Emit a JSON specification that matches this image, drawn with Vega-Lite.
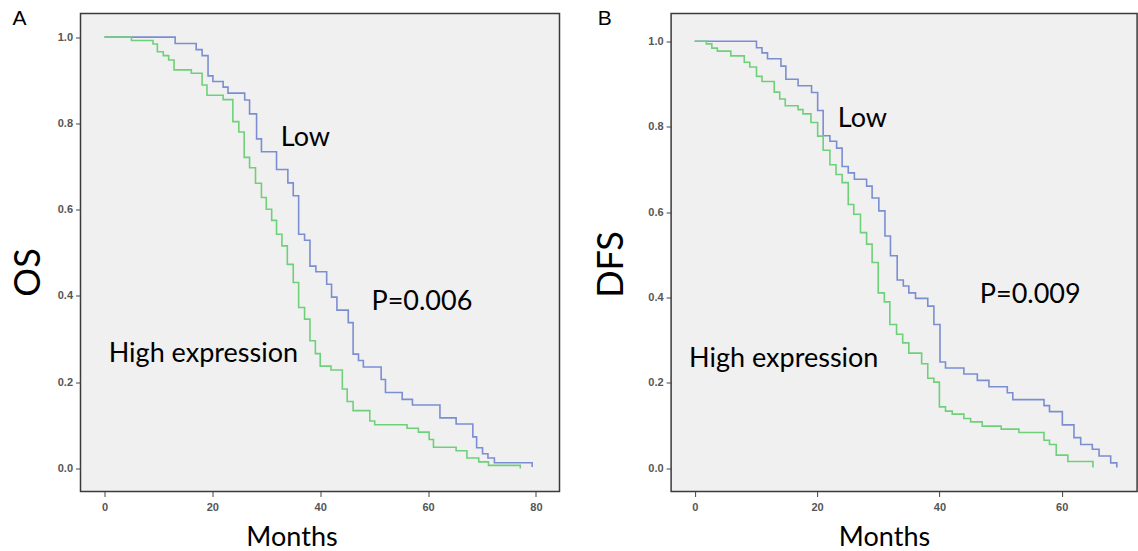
{
  "$schema": "https://vega.github.io/schema/vega-lite/v6.json",
  "background": "white",
  "padding": {"left": 9.5, "top": 7.5, "right": 0, "bottom": 0},
  "spacing": 111.6,
  "bounds": "flush",
  "config": {
    "view": {"fill": "#f0f0f0", "stroke": "#3a3a3a", "strokeWidth": 1.5},
    "axis": {
      "grid": false, "domain": false, "tickColor": "#444", "tickSize": 5, "tickWidth": 1,
      "labelFont": "Liberation Sans", "labelFontSize": 11, "labelColor": "#555", "labelFontWeight": "bold",
      "titleFont": "Lato", "titleFontWeight": "normal", "titleColor": "#000"
    },
    "title": {"font": "Liberation Sans", "fontSize": 21, "fontWeight": "normal", "color": "#000", "anchor": "start", "frame": "group", "baseline": "alphabetic", "offset": 0}
  },
  "datasets": {
    "curvesA": [
      {"group": "Low", "month": 0, "surv": 1.0},
      {"group": "Low", "month": 13.1, "surv": 0.985},
      {"group": "Low", "month": 17.0, "surv": 0.971},
      {"group": "Low", "month": 18.1, "surv": 0.957},
      {"group": "Low", "month": 19.2, "surv": 0.910},
      {"group": "Low", "month": 20.1, "surv": 0.897},
      {"group": "Low", "month": 22.0, "surv": 0.884},
      {"group": "Low", "month": 22.9, "surv": 0.870},
      {"group": "Low", "month": 26.0, "surv": 0.854},
      {"group": "Low", "month": 26.9, "surv": 0.822},
      {"group": "Low", "month": 28.2, "surv": 0.764},
      {"group": "Low", "month": 29.1, "surv": 0.734},
      {"group": "Low", "month": 31.9, "surv": 0.693},
      {"group": "Low", "month": 34.0, "surv": 0.662},
      {"group": "Low", "month": 35.0, "surv": 0.632},
      {"group": "Low", "month": 36.0, "surv": 0.543},
      {"group": "Low", "month": 37.1, "surv": 0.529},
      {"group": "Low", "month": 38.1, "surv": 0.469},
      {"group": "Low", "month": 39.2, "surv": 0.456},
      {"group": "Low", "month": 41.2, "surv": 0.427},
      {"group": "Low", "month": 42.1, "surv": 0.397},
      {"group": "Low", "month": 43.1, "surv": 0.367},
      {"group": "Low", "month": 45.2, "surv": 0.338},
      {"group": "Low", "month": 46.1, "surv": 0.265},
      {"group": "Low", "month": 47.1, "surv": 0.250},
      {"group": "Low", "month": 48.0, "surv": 0.235},
      {"group": "Low", "month": 51.3, "surv": 0.206},
      {"group": "Low", "month": 52.1, "surv": 0.176},
      {"group": "Low", "month": 55.2, "surv": 0.160},
      {"group": "Low", "month": 57.1, "surv": 0.147},
      {"group": "Low", "month": 62.2, "surv": 0.117},
      {"group": "Low", "month": 65.2, "surv": 0.103},
      {"group": "Low", "month": 68.3, "surv": 0.073},
      {"group": "Low", "month": 69.0, "surv": 0.048},
      {"group": "Low", "month": 70.1, "surv": 0.034},
      {"group": "Low", "month": 71.1, "surv": 0.024},
      {"group": "Low", "month": 72.3, "surv": 0.013},
      {"group": "Low", "month": 79.3, "surv": 0.003},
      {"group": "High expression", "month": 0, "surv": 1.0},
      {"group": "High expression", "month": 5.0, "surv": 0.992},
      {"group": "High expression", "month": 9.0, "surv": 0.984},
      {"group": "High expression", "month": 9.8, "surv": 0.966},
      {"group": "High expression", "month": 10.9, "surv": 0.957},
      {"group": "High expression", "month": 11.9, "surv": 0.947},
      {"group": "High expression", "month": 12.9, "surv": 0.924},
      {"group": "High expression", "month": 16.1, "surv": 0.916},
      {"group": "High expression", "month": 18.1, "surv": 0.889},
      {"group": "High expression", "month": 19.0, "surv": 0.865},
      {"group": "High expression", "month": 22.0, "surv": 0.855},
      {"group": "High expression", "month": 23.8, "surv": 0.804},
      {"group": "High expression", "month": 24.9, "surv": 0.780},
      {"group": "High expression", "month": 25.9, "surv": 0.721},
      {"group": "High expression", "month": 26.9, "surv": 0.697},
      {"group": "High expression", "month": 28.0, "surv": 0.661},
      {"group": "High expression", "month": 29.1, "surv": 0.628},
      {"group": "High expression", "month": 30.0, "surv": 0.601},
      {"group": "High expression", "month": 31.0, "surv": 0.575},
      {"group": "High expression", "month": 31.9, "surv": 0.543},
      {"group": "High expression", "month": 32.9, "surv": 0.516},
      {"group": "High expression", "month": 33.9, "surv": 0.473},
      {"group": "High expression", "month": 35.0, "surv": 0.431},
      {"group": "High expression", "month": 36.0, "surv": 0.373},
      {"group": "High expression", "month": 37.1, "surv": 0.346},
      {"group": "High expression", "month": 38.1, "surv": 0.296},
      {"group": "High expression", "month": 39.1, "surv": 0.266},
      {"group": "High expression", "month": 40.0, "surv": 0.237},
      {"group": "High expression", "month": 42.0, "surv": 0.228},
      {"group": "High expression", "month": 44.1, "surv": 0.184},
      {"group": "High expression", "month": 45.0, "surv": 0.155},
      {"group": "High expression", "month": 46.1, "surv": 0.134},
      {"group": "High expression", "month": 49.2, "surv": 0.110},
      {"group": "High expression", "month": 50.1, "surv": 0.101},
      {"group": "High expression", "month": 56.1, "surv": 0.093},
      {"group": "High expression", "month": 58.2, "surv": 0.084},
      {"group": "High expression", "month": 60.2, "surv": 0.067},
      {"group": "High expression", "month": 61.0, "surv": 0.049},
      {"group": "High expression", "month": 65.2, "surv": 0.041},
      {"group": "High expression", "month": 67.2, "surv": 0.024},
      {"group": "High expression", "month": 69.4, "surv": 0.015},
      {"group": "High expression", "month": 71.2, "surv": 0.007},
      {"group": "High expression", "month": 77.1, "surv": 0.0}
    ],
    "curvesB": [
      {"group": "Low", "month": 0, "surv": 1.0},
      {"group": "Low", "month": 10.1, "surv": 0.985},
      {"group": "Low", "month": 11.0, "surv": 0.973},
      {"group": "Low", "month": 11.9, "surv": 0.959},
      {"group": "Low", "month": 14.1, "surv": 0.942},
      {"group": "Low", "month": 14.9, "surv": 0.911},
      {"group": "Low", "month": 16.9, "surv": 0.896},
      {"group": "Low", "month": 19.1, "surv": 0.880},
      {"group": "Low", "month": 20.1, "surv": 0.838},
      {"group": "Low", "month": 21.0, "surv": 0.779},
      {"group": "Low", "month": 22.1, "surv": 0.766},
      {"group": "Low", "month": 23.2, "surv": 0.750},
      {"group": "Low", "month": 24.1, "surv": 0.707},
      {"group": "Low", "month": 25.1, "surv": 0.692},
      {"group": "Low", "month": 26.1, "surv": 0.677},
      {"group": "Low", "month": 28.1, "surv": 0.661},
      {"group": "Low", "month": 29.0, "surv": 0.633},
      {"group": "Low", "month": 30.1, "surv": 0.603},
      {"group": "Low", "month": 31.1, "surv": 0.544},
      {"group": "Low", "month": 32.0, "surv": 0.498},
      {"group": "Low", "month": 33.1, "surv": 0.441},
      {"group": "Low", "month": 34.1, "surv": 0.427},
      {"group": "Low", "month": 35.0, "surv": 0.411},
      {"group": "Low", "month": 36.1, "surv": 0.398},
      {"group": "Low", "month": 38.1, "surv": 0.380},
      {"group": "Low", "month": 39.1, "surv": 0.337},
      {"group": "Low", "month": 40.1, "surv": 0.249},
      {"group": "Low", "month": 41.0, "surv": 0.235},
      {"group": "Low", "month": 44.0, "surv": 0.221},
      {"group": "Low", "month": 46.2, "surv": 0.206},
      {"group": "Low", "month": 48.1, "surv": 0.191},
      {"group": "Low", "month": 51.1, "surv": 0.177},
      {"group": "Low", "month": 52.0, "surv": 0.161},
      {"group": "Low", "month": 57.1, "surv": 0.147},
      {"group": "Low", "month": 58.0, "surv": 0.133},
      {"group": "Low", "month": 60.1, "surv": 0.102},
      {"group": "Low", "month": 62.0, "surv": 0.072},
      {"group": "Low", "month": 63.1, "surv": 0.056},
      {"group": "Low", "month": 65.0, "surv": 0.045},
      {"group": "Low", "month": 66.1, "surv": 0.029},
      {"group": "Low", "month": 68.0, "surv": 0.013},
      {"group": "Low", "month": 69.0, "surv": 0.002},
      {"group": "High expression", "month": 0, "surv": 1.0},
      {"group": "High expression", "month": 1.9, "surv": 0.994},
      {"group": "High expression", "month": 2.8, "surv": 0.984},
      {"group": "High expression", "month": 3.7, "surv": 0.977},
      {"group": "High expression", "month": 5.9, "surv": 0.966},
      {"group": "High expression", "month": 8.1, "surv": 0.951},
      {"group": "High expression", "month": 9.0, "surv": 0.940},
      {"group": "High expression", "month": 10.1, "surv": 0.918},
      {"group": "High expression", "month": 11.0, "surv": 0.906},
      {"group": "High expression", "month": 13.0, "surv": 0.881},
      {"group": "High expression", "month": 13.9, "surv": 0.865},
      {"group": "High expression", "month": 14.8, "surv": 0.849},
      {"group": "High expression", "month": 16.9, "surv": 0.840},
      {"group": "High expression", "month": 17.7, "surv": 0.830},
      {"group": "High expression", "month": 19.0, "surv": 0.810},
      {"group": "High expression", "month": 20.1, "surv": 0.778},
      {"group": "High expression", "month": 21.0, "surv": 0.745},
      {"group": "High expression", "month": 22.1, "surv": 0.711},
      {"group": "High expression", "month": 23.1, "surv": 0.688},
      {"group": "High expression", "month": 24.1, "surv": 0.669},
      {"group": "High expression", "month": 25.1, "surv": 0.618},
      {"group": "High expression", "month": 26.0, "surv": 0.595},
      {"group": "High expression", "month": 27.1, "surv": 0.552},
      {"group": "High expression", "month": 28.1, "surv": 0.525},
      {"group": "High expression", "month": 29.0, "surv": 0.482},
      {"group": "High expression", "month": 30.0, "surv": 0.411},
      {"group": "High expression", "month": 31.0, "surv": 0.390},
      {"group": "High expression", "month": 31.9, "surv": 0.337},
      {"group": "High expression", "month": 33.0, "surv": 0.314},
      {"group": "High expression", "month": 34.0, "surv": 0.294},
      {"group": "High expression", "month": 35.0, "surv": 0.270},
      {"group": "High expression", "month": 37.1, "surv": 0.245},
      {"group": "High expression", "month": 38.1, "surv": 0.211},
      {"group": "High expression", "month": 39.1, "surv": 0.202},
      {"group": "High expression", "month": 40.0, "surv": 0.144},
      {"group": "High expression", "month": 41.0, "surv": 0.134},
      {"group": "High expression", "month": 42.1, "surv": 0.127},
      {"group": "High expression", "month": 44.0, "surv": 0.117},
      {"group": "High expression", "month": 45.1, "surv": 0.109},
      {"group": "High expression", "month": 47.0, "surv": 0.099},
      {"group": "High expression", "month": 50.1, "surv": 0.092},
      {"group": "High expression", "month": 53.0, "surv": 0.084},
      {"group": "High expression", "month": 57.1, "surv": 0.066},
      {"group": "High expression", "month": 58.0, "surv": 0.056},
      {"group": "High expression", "month": 59.1, "surv": 0.031},
      {"group": "High expression", "month": 61.0, "surv": 0.016},
      {"group": "High expression", "month": 65.1, "surv": 0.002}
    ],
    "textA": [
      {"label": "Low", "month": 32.7, "surv": 0.7475},
      {"label": "P=0.006", "month": 49.5, "surv": 0.3677},
      {"label": "High expression", "month": 0.78, "surv": 0.2458}
    ],
    "textB": [
      {"label": "Low", "month": 23.4, "surv": 0.7993},
      {"label": "P=0.009", "month": 46.6, "surv": 0.3873},
      {"label": "High expression", "month": -0.92, "surv": 0.2374}
    ]
  },
  "hconcat": [
    {
      "width": 479,
      "height": 478,
      "title": {"text": "A", "dx": -68, "dy": 19.8},
      "layer": [
        {
          "data": {"name": "curvesA"},
          "mark": {"type": "line", "interpolate": "step-after", "strokeWidth": 1.6},
          "encoding": {
            "x": {"field": "month", "type": "quantitative",
                  "scale": {"domain": [-4.45, 84.37], "nice": false, "zero": false},
                  "axis": {"values": [0, 20, 40, 60, 80], "format": "d", "labelPadding": 5, "title": "Months", "titleFontSize": 27, "titleX": 211, "titleY": 54, "titleBaseline": "alphabetic", "titleAlign": "center", "titleAnchor": null}},
            "y": {"field": "surv", "type": "quantitative",
                  "scale": {"domain": [-0.0536, 1.0547], "nice": false, "zero": false},
                  "axis": {"values": [0, 0.2, 0.4, 0.6, 0.8, 1.0], "format": ".1f", "labelPadding": 3, "title": "OS", "titleFontSize": 36, "titleAngle": 270, "titleX": -40.7, "titleY": 258.5, "titleBaseline": "alphabetic", "titleAlign": "center", "titleAnchor": null}},
            "color": {"field": "group", "type": "nominal",
                      "scale": {"domain": ["Low", "High expression"], "range": ["#7b8ed1", "#6fd07a"]},
                      "legend": null}
          }
        },
        {
          "data": {"name": "textA"},
          "mark": {"type": "text", "font": "Lato", "fontSize": 27, "align": "left", "baseline": "alphabetic", "color": "#000"},
          "encoding": {
            "x": {"field": "month", "type": "quantitative"},
            "y": {"field": "surv", "type": "quantitative"},
            "text": {"field": "label", "type": "nominal"}
          }
        }
      ]
    },
    {
      "width": 466,
      "height": 478,
      "title": {"text": "B", "dx": -73.4, "dy": 19.8},
      "layer": [
        {
          "data": {"name": "curvesB"},
          "mark": {"type": "line", "interpolate": "step-after", "strokeWidth": 1.6},
          "encoding": {
            "x": {"field": "month", "type": "quantitative",
                  "scale": {"domain": [-3.86, 72.32], "nice": false, "zero": false},
                  "axis": {"values": [0, 20, 40, 60], "format": "d", "labelPadding": 5, "title": "Months", "titleFontSize": 27, "titleX": 212.9, "titleY": 54, "titleBaseline": "alphabetic", "titleAlign": "center", "titleAnchor": null}},
            "y": {"field": "surv", "type": "quantitative",
                  "scale": {"domain": [-0.0541, 1.0651], "nice": false, "zero": false},
                  "axis": {"values": [0, 0.2, 0.4, 0.6, 0.8, 1.0], "format": ".1f", "labelPadding": 3, "title": "DFS", "titleFontSize": 36, "titleAngle": 270, "titleX": -48.9, "titleY": 250.5, "titleBaseline": "alphabetic", "titleAlign": "center", "titleAnchor": null}},
            "color": {"field": "group", "type": "nominal",
                      "scale": {"domain": ["Low", "High expression"], "range": ["#7b8ed1", "#6fd07a"]},
                      "legend": null}
          }
        },
        {
          "data": {"name": "textB"},
          "mark": {"type": "text", "font": "Lato", "fontSize": 27, "align": "left", "baseline": "alphabetic", "color": "#000"},
          "encoding": {
            "x": {"field": "month", "type": "quantitative"},
            "y": {"field": "surv", "type": "quantitative"},
            "text": {"field": "label", "type": "nominal"}
          }
        }
      ]
    }
  ]
}
